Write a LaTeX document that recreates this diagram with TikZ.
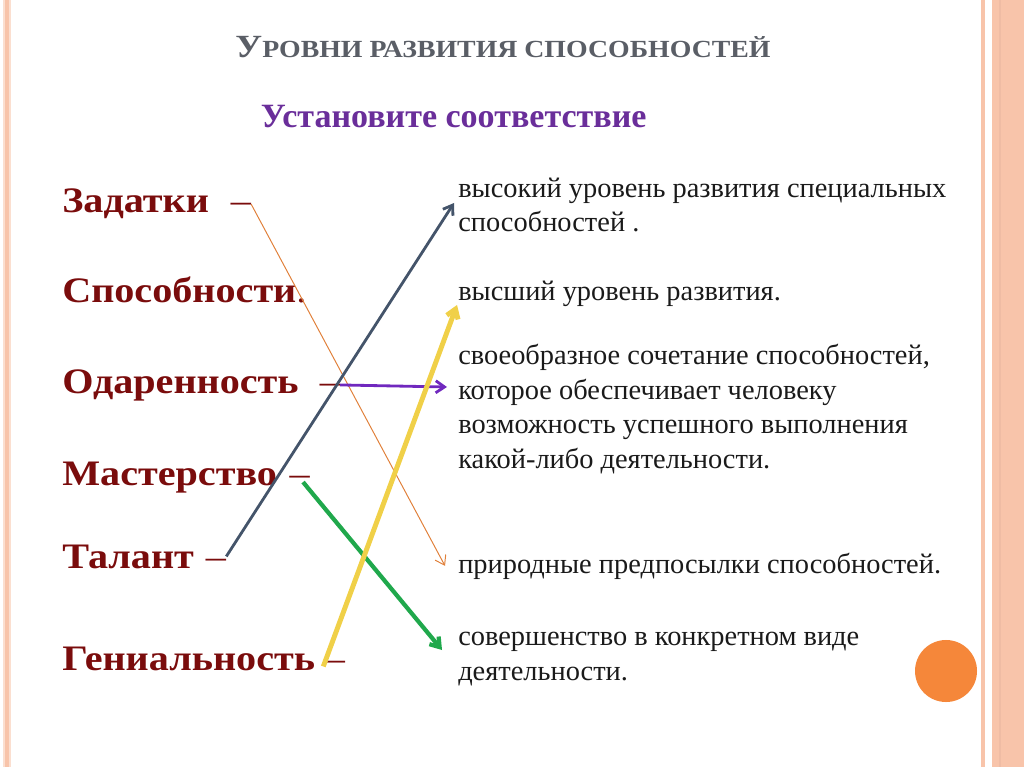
\documentclass[tikz,border=0pt]{standalone}
\usepackage{fontspec}
\setmainfont{Liberation Serif}
\newfontfamily\wideserif[FakeStretch=1.12]{Liberation Serif}
\newfontfamily\titleserif[FakeStretch=1.13]{Liberation Serif}
\usepackage{tikz}
\usetikzlibrary{positioning, arrows.meta, calc}
\definecolor{bordercolor}{RGB}{248,196,170}
\definecolor{borderdark}{RGB}{232,160,125}
\definecolor{titlegray}{RGB}{90,94,102}
\definecolor{taskpurple}{RGB}{106,46,154}
\definecolor{wordred}{RGB}{122,12,12}
\definecolor{answertext}{RGB}{26,26,26}
\definecolor{linkorange}{RGB}{224,128,58}
\definecolor{linkblue}{RGB}{68,84,106}
\definecolor{linkpurple}{RGB}{112,40,190}
\definecolor{linkgreen}{RGB}{32,168,76}
\definecolor{linkyellow}{RGB}{240,208,72}
\definecolor{dotcolor}{RGB}{245,135,58}

\begin{document}
\begin{tikzpicture}[x=0.025cm, y=-0.025cm,
    leftword/.style={anchor=base west, inner sep=0pt, font=\wideserif\fontsize{25.5}{28}\selectfont\bfseries, text=wordred},
    answer/.style={anchor=base west, inner sep=0pt, align=left, font=\fontsize{20.2}{24.5}\selectfont, text=answertext},
    link/.style={-{Straight Barb[length=2.2mm, width=3mm]}}
]
    \useasboundingbox (0,0) rectangle (1024,767);

    % === CADRE ===
    \fill[bordercolor!55] (3,0) rectangle (11,767);
    \fill[bordercolor] (5,0) rectangle (9,767);
    \fill[bordercolor] (981,0) rectangle (985,767);
    \fill[bordercolor] (992,0) rectangle (1024,767);
    \fill[borderdark!70] (999,0) rectangle (1001,767);

    % === TITRE ===
    \node[anchor=base, text=titlegray, font=\titleserif\bfseries] (title) at (503,58) {%
        {\fontsize{23}{26}\selectfont У}{\fontsize{17.5}{20}\selectfont РОВНИ РАЗВИТИЯ СПОСОБНОСТЕЙ}};
    \node[anchor=base west, text=taskpurple, font=\fontsize{24.2}{28}\selectfont\bfseries] (task) at (256,128) {Установите соответствие};

    % === TERMES ===
    \node[leftword] (zad) at (62,213) {Задатки\hspace{15.6pt}{\mdseries –}};
    \node[leftword] (abil) at (62,302) {Способности{\mdseries .}};
    \node[leftword] (gift) at (62,393) {Одаренность\hspace{15pt}{\mdseries –}};
    \node[leftword] (mast) at (62,485) {Мастерство\hspace{9pt}{\mdseries –}};
    \node[leftword] (tal) at (62,568) {Талант\hspace{8.5pt}{\mdseries –}};
    \node[leftword] (gen) at (62,670) {Гениальность\hspace{7pt}{\mdseries –}};

    % === DÉFINITIONS (placées sur la dernière ligne) ===
    \node[answer] (high) at (458,232) {высокий уровень развития специальных\\способностей .};
    \node[answer] (top) at (458,300) {высший уровень развития.};
    \node[answer] (combo) at (458,468) {своеобразное сочетание способностей,\\которое обеспечивает человеку\\возможность успешного выполнения\\какой-либо деятельности.};
    \node[answer] (nat) at (458,573) {природные предпосылки способностей.};
    \node[answer] (perf) at (458,680) {совершенство в конкретном виде\\деятельности.};

    % === FLÈCHES ===
    \draw[link, linkorange, line width=0.7pt] (zad.east) -- ($(nat.west)+(-13,0)$);
    \draw[link, linkblue, line width=2pt] (tal.east) -- ($(high.base west)+(-4,-29)$);
    \draw[link, linkpurple, line width=2pt] (gift.east) -- ($(combo.base west)+(-11,-81)$);
    \draw[link, linkgreen, line width=3pt] ($(mast.east)+(-7,5)$) -- ($(perf.base west)+(-16,-30)$);
    \draw[link, linkyellow, line width=3.5pt] ($(gen.east)+(-22,8)$) -- ($(top.base west)+(-1,5)$);

    % === POINT ===
    \node[circle, fill=dotcolor, minimum size=1.55cm, inner sep=0pt] (dot) at (946,671) {};
\end{tikzpicture}
\end{document}
